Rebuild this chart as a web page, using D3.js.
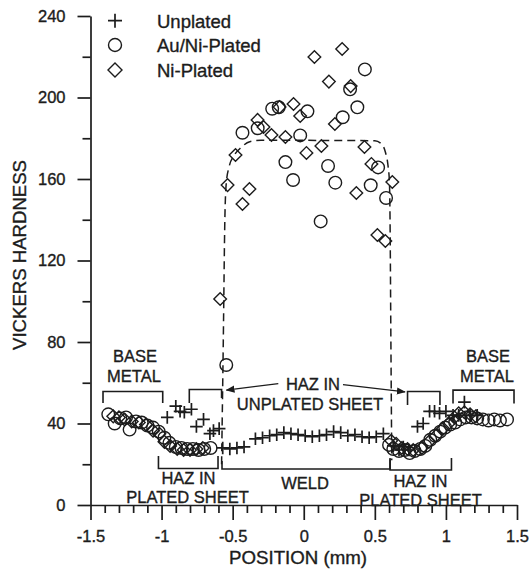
<!DOCTYPE html>
<html><head><meta charset="utf-8">
<script src="https://cdn.jsdelivr.net/npm/d3@7"></script>
<style>
html,body{margin:0;padding:0;background:#fff;}
svg{display:block;font-family:"Liberation Sans",Arial,Helvetica,sans-serif;}
svg text{stroke:#1c1c1c;stroke-width:0.35px;}
</style></head>
<body>
<svg id="chart" width="529" height="571"></svg>
<script>
// ---------- DATA ----------
const seriesNames = ["Unplated", "Au/Ni-Plated", "Ni-Plated"];
const xTicks = [-1.5, -1, -0.5, 0, 0.5, 1, 1.5];
const xTickLabels = ["-1.5", "-1", "-0.5", "0", "0.5", "1", "1.5"];
const yTicks = [0, 40, 80, 120, 160, 200, 240];
const yTickLabels = ["0", "40", "80", "120", "160", "200", "240"];

const unplated = [
  [-0.96,43],[-0.90,48.5],[-0.87,46],[-0.84,45.5],[-0.79,47],[-0.755,38.5],[-0.705,42],[-0.66,35],[-0.635,36.5],[-0.595,37.5],
  [-0.57,28],[-0.52,27.5],[-0.47,28],[-0.42,28.5],[-0.34,32.5],[-0.29,33],[-0.24,34],[-0.19,34.5],[-0.14,35.5],[-0.09,35],
  [-0.04,34.5],[0.01,34],[0.06,33.5],[0.11,34],[0.16,34.5],[0.21,36],[0.26,35.5],[0.31,34],[0.36,34.5],[0.41,33.5],
  [0.46,33],[0.51,33.5],[0.56,35],
  [0.63,29],[0.67,27],[0.70,28.5],[0.74,27],[0.80,38.5],[0.84,40],[0.885,46],[0.92,46],[0.955,45],[1.0,46],
  [1.05,44],[1.09,44],[1.13,50.5],[1.17,44],[1.22,44]
];
const auNiPlated = [
  [-1.375,44.5],[-1.33,40],[-1.29,42.5],[-1.25,43],[-1.225,37],[-1.18,41],[-1.14,40.5],[-1.10,39],[-1.06,38],[-1.02,36],
  [-0.98,33],[-0.945,30.5],[-0.90,28.5],[-0.86,28],[-0.82,27.5],[-0.78,27.5],[-0.74,27],[-0.70,27.5],[-0.655,28],
  [-0.545,68.7],
  [0.43,213.8],[0.326,204],[0.377,195.2],[0.274,190.3],[-0.222,194.5],[-0.176,195.2],[0.026,193.2],[-0.431,182.7],
  [-0.324,184.9],[-0.025,181.4],[-0.129,168.3],[-0.075,159.5],[0.171,166.4],[0.222,158.2],[0.523,165.7],[0.471,156.9],
  [0.579,150.7],[0.119,139.2],
  [0.60,29.5],[0.63,27.5],[0.67,26.5],[0.71,27],[0.745,25.5],[0.78,26.5],[0.82,27.5],[0.855,29],[0.89,32],[0.925,34],
  [0.96,36],[0.995,38],[1.03,39.5],[1.065,40.5],[1.10,42],[1.14,43],[1.18,43],[1.22,42.5],[1.26,42],[1.30,41.5],
  [1.34,42],[1.38,41.5],[1.43,42]
];
const niPlated = [
  [-1.34,43.5],[-1.30,43],[-1.26,42],[-1.21,41],[-1.16,40.5],[-1.11,39.5],[-1.06,36.5],[-1.015,35],[-0.98,31],[-0.94,29],
  [-0.89,27.5],[-0.845,27],[-0.80,27],[-0.755,27.5],[-0.71,28],
  [-0.588,101.1],
  [0.075,219.9],[0.27,223.8],[0.177,207.8],[0.33,205.6],[-0.072,196.8],[-0.17,195.3],[-0.025,190.9],[-0.325,189],
  [-0.283,185.5],[-0.227,181.6],[-0.129,180.6],[0.219,187],[0.019,172.8],[0.124,176.2],[0.427,175.7],[0.476,167.4],
  [-0.48,171.8],[-0.536,157],[-0.382,155.1],[-0.431,147.7],[0.37,153.1],[0.623,158.5],[0.518,132.5],[0.574,129.6],
  [0.615,31.5],[0.65,30],[0.69,28],[0.73,27.5],[0.77,27],[0.83,28],[0.88,31],[0.93,34],[0.98,37.5],[1.02,40],
  [1.06,43],[1.09,45],[1.13,45.5],[1.17,44.5],[1.21,43.5]
];
// dashed weld profile (position mm, hardness)
const profileX = [-0.578,-0.566,-0.555,-0.545,-0.525,-0.49,-0.44,-0.38,-0.3,0.5,0.55,0.575,0.592,0.603,0.607,0.613,0.619];
const profileY = [20,80,140,158,166,171.5,175.5,178.3,179,178.8,177,173,167,158,140,80,22];

// ---------- DRAW ----------
const ink = "#1c1c1c";
const svg = d3.select("#chart");
svg.append("rect").attr("width",529).attr("height",571).attr("fill","#fff");
const x = d3.scaleLinear().domain([-1.5,1.5]).range([90.5,517]);
const y = d3.scaleLinear().domain([0,240]).range([505,16]);

// axes
const yAxis = d3.axisLeft(y).tickValues(yTicks).tickSize(13).tickSizeOuter(0).tickPadding(12)
  .tickFormat((d,i)=>yTickLabels[i]);
const gy = svg.append("g").attr("transform","translate(90.5,0)").call(yAxis);
const yMinor = d3.axisLeft(y).tickValues(d3.range(20,240,40)).tickSize(8).tickSizeOuter(0).tickFormat("");
const gy2 = svg.append("g").attr("transform","translate(90.5,0)").call(yMinor);
gy2.select(".domain").remove();

const xAxis = d3.axisBottom(x).tickValues(xTicks).tickSize(15).tickSizeOuter(0).tickPadding(10)
  .tickFormat((d,i)=>xTickLabels[i]);
const gx = svg.append("g").attr("transform","translate(0,505)").call(xAxis);
const minorX = d3.range(-15,16).map(v=>v/10).filter(v=>Math.abs(v*2-Math.round(v*2))>1e-6);
const gx2 = svg.append("g").attr("transform","translate(0,505)")
  .call(d3.axisBottom(x).tickValues(minorX).tickSize(8).tickSizeOuter(0).tickFormat(""));
gx2.select(".domain").remove();

[gy,gy2,gx,gx2].forEach(g=>{
  g.selectAll("path,line").attr("stroke",ink).attr("stroke-width",1.7);
  g.selectAll("text").attr("fill",ink).attr("font-size",16.5).attr("font-family","Liberation Sans, Arial, sans-serif");
});

// axis titles
svg.append("text").attr("x",298).attr("y",563.5).attr("text-anchor","middle")
  .attr("font-size",17.5).attr("fill",ink).attr("textLength",138).attr("lengthAdjust","spacingAndGlyphs")
  .text("POSITION (mm)");
svg.append("text").attr("transform","translate(26,255) rotate(-90)").attr("text-anchor","middle")
  .attr("font-size",18).attr("fill",ink).attr("textLength",190).attr("lengthAdjust","spacingAndGlyphs")
  .text("VICKERS HARDNESS");

// dashed profile
const profile = profileX.map((v,i)=>[v,profileY[i]]);
svg.append("path").datum(profile)
  .attr("d", d3.line().x(d=>x(d[0])).y(d=>y(d[1])).curve(d3.curveMonotoneX))
  .attr("fill","none").attr("stroke",ink).attr("stroke-width",1.5).attr("stroke-dasharray","8,5");

// markers
const plusPath = (s)=>`M${-s},0H${s}M0,${-s}V${s}`;
const diaPath = (s)=>`M0,${-s}L${s},0L0,${s}L${-s},0Z`;
svg.append("g").selectAll("circle").data(auNiPlated).join("circle")
  .attr("cx",d=>x(d[0])).attr("cy",d=>y(d[1])).attr("r",6.3)
  .attr("fill","none").attr("stroke",ink).attr("stroke-width",1.4);
svg.append("g").selectAll("path").data(niPlated).join("path")
  .attr("transform",d=>`translate(${x(d[0])},${y(d[1])})`).attr("d",diaPath(6.3))
  .attr("fill","none").attr("stroke",ink).attr("stroke-width",1.4);
svg.append("g").selectAll("path").data(unplated).join("path")
  .attr("transform",d=>`translate(${x(d[0])},${y(d[1])})`).attr("d",plusPath(6.3))
  .attr("fill","none").attr("stroke",ink).attr("stroke-width",1.7);

// legend
const leg = svg.append("g");
const legY = [20.7,45,70];
leg.append("path").attr("transform",`translate(115,${legY[0]})`).attr("d",plusPath(7)).attr("stroke",ink).attr("stroke-width",1.7).attr("fill","none");
leg.append("circle").attr("cx",115).attr("cy",legY[1]).attr("r",6.5).attr("stroke",ink).attr("stroke-width",1.4).attr("fill","none");
leg.append("path").attr("transform",`translate(115,${legY[2]})`).attr("d",diaPath(7)).attr("stroke",ink).attr("stroke-width",1.4).attr("fill","none");
seriesNames.forEach((n,i)=>{
  leg.append("text").attr("x",157).attr("y",legY[i]+6.8).attr("font-size",18.5).attr("fill",ink).text(n);
});

// annotations (brackets in data coordinates)
const ann = svg.append("g").attr("stroke",ink).attr("stroke-width",1.6).attr("fill","none");
function bracketDown(x0,x1,yv,yEnd0,yEnd1){
  ann.append("path").attr("d",`M${x(x0)},${y(yEnd0)}V${y(yv)}H${x(x1)}V${y(yEnd1)}`);
}
bracketDown(-1.412,-0.992,55.7,50.1,50.1);
bracketDown(-0.805,-0.578,56.7,50.1,52.5);
bracketDown(0.730,0.958,55.7,49.1,49.1);
bracketDown(1.05,1.479,56.4,49.8,49.8);
bracketDown(-1.022,-0.603,17.9,24,24);
bracketDown(-0.575,0.607,17.7,21.6,22.5);
bracketDown(0.607,1.039,17.2,23.1,23.1);

// arrows
const defs = svg.append("defs");
defs.append("marker").attr("id","ah").attr("viewBox","0 0 10 10").attr("refX",9).attr("refY",5)
  .attr("markerWidth",9).attr("markerHeight",9).attr("markerUnits","userSpaceOnUse").attr("orient","auto")
  .append("path").attr("d","M0,1L10,5L0,9Z").attr("fill",ink);
svg.append("line").attr("x1",x(-0.179)).attr("y1",y(59.6)).attr("x2",x(-0.544)).attr("y2",y(56.4))
  .attr("stroke",ink).attr("stroke-width",1.3).attr("marker-end","url(#ah)");
svg.append("line").attr("x1",x(0.276)).attr("y1",y(59.1)).attr("x2",x(0.712)).attr("y2",y(55.5))
  .attr("stroke",ink).attr("stroke-width",1.3).attr("marker-end","url(#ah)");

const txt = svg.append("g").attr("fill",ink).attr("font-size",16.5).attr("text-anchor","middle");
const labels = [
  ["BASE",135,361.5],["METAL",134,381.5],
  ["BASE",488,361.5],["METAL",487,381.5],
  ["HAZ IN",313,390],["UNPLATED SHEET",310,410],
  ["HAZ IN",188.5,483.5],["PLATED SHEET",187.5,502.5],
  ["WELD",305,488.5],
  ["HAZ IN",420.5,487],["PLATED SHEET",420.5,506]
];
labels.forEach(l=>txt.append("text").attr("x",l[1]).attr("y",l[2]).text(l[0]));
</script>
</body></html>
